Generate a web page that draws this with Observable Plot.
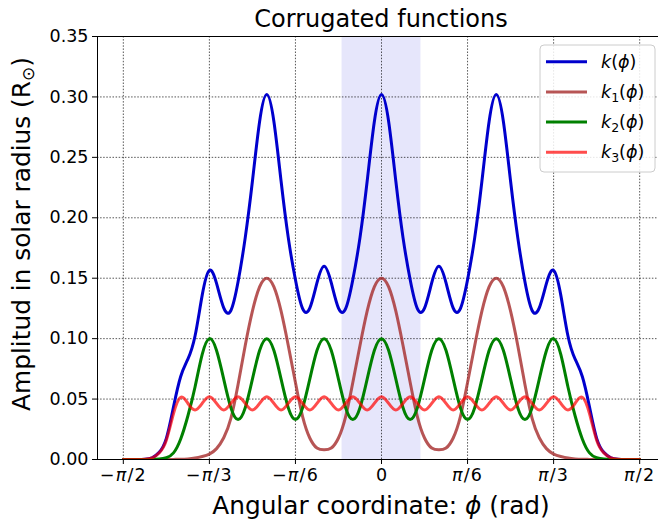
<!DOCTYPE html>
<html>
<head>
<meta charset="utf-8">
<script src="https://cdn.jsdelivr.net/npm/d3@7"></script>
<script src="https://cdn.jsdelivr.net/npm/@observablehq/plot@0.6"></script>
<style>
  html, body { margin: 0; padding: 0; background: #fff; }
  body { width: 658px; height: 523px; overflow: hidden; }
  #chart { width: 658px; height: 523px; }
</style>
</head>
<body>
<div id="chart"></div>
<script>
// Angular samples, in degrees (converted to radians for the x scale)
const angleDeg = [
  -90, -87.5, -85, -82.5, -80, -77.5, -75, -72.5, -70, -67.5, -65, -62.5,
  -60, -57.5, -55, -52.5, -50, -47.5, -45, -42.5, -40, -37.5, -35, -32.5,
  -30, -27.5, -25, -22.5, -20, -17.5, -15, -12.5, -10, -7.5, -5, -2.5,
  0,
  2.5, 5, 7.5, 10, 12.5, 15, 17.5, 20, 22.5, 25, 27.5, 30,
  32.5, 35, 37.5, 40, 42.5, 45, 47.5, 50, 52.5, 55, 57.5, 60,
  62.5, 65, 67.5, 70, 72.5, 75, 77.5, 80, 82.5, 85, 87.5, 90
];

// k(phi): total corrugation
const kTotal = [
  0, 0, 0.0001, 0.0003, 0.0014, 0.0059, 0.0175, 0.0436, 0.0687, 0.083, 0.1022, 0.136,
  0.1565, 0.1457, 0.1255, 0.1233, 0.147, 0.1836, 0.2302, 0.2795, 0.302, 0.2795, 0.2302, 0.1836,
  0.1487, 0.1248, 0.1253, 0.1462, 0.160, 0.1462, 0.1253, 0.1248, 0.1487, 0.1836, 0.2302, 0.2795,
  0.302,
  0.2795, 0.2302, 0.1836, 0.1487, 0.1248, 0.1253, 0.1462, 0.160, 0.1462, 0.1253, 0.1248, 0.1487,
  0.1836, 0.2302, 0.2795, 0.302, 0.2795, 0.2302, 0.1836, 0.147, 0.1233, 0.1255, 0.1457, 0.1565,
  0.136, 0.1022, 0.083, 0.0687, 0.0436, 0.0175, 0.0059, 0.0014, 0.0003, 0.0001, 0, 0
];

// k1(phi)
const k1 = [
  0, 0, 0, 0, 0, 0, 0, 0.0001, 0.0002, 0.0005, 0.0012, 0.0025,
  0.0045, 0.009, 0.018, 0.034, 0.062, 0.0943, 0.1227, 0.1428, 0.150, 0.1428, 0.1227, 0.0943,
  0.0637, 0.0355, 0.0178, 0.0095, 0.008, 0.0095, 0.0178, 0.0355, 0.0637, 0.0943, 0.1227, 0.1428,
  0.150,
  0.1428, 0.1227, 0.0943, 0.0637, 0.0355, 0.0178, 0.0095, 0.008, 0.0095, 0.0178, 0.0355, 0.0637,
  0.0943, 0.1227, 0.1428, 0.150, 0.1428, 0.1227, 0.0943, 0.062, 0.034, 0.018, 0.009, 0.0045,
  0.0025, 0.0012, 0.0005, 0.0002, 0.0001, 0, 0, 0, 0, 0, 0, 0
];

// k2(phi)
const k2 = [
  0, 0, 0, 0, 0.0001, 0.0004, 0.0015, 0.0055, 0.017, 0.036, 0.060, 0.087,
  0.100, 0.0902, 0.0665, 0.0428, 0.033, 0.0428, 0.0665, 0.0902, 0.100, 0.0902, 0.0665, 0.0428,
  0.033, 0.0428, 0.0665, 0.0902, 0.100, 0.0902, 0.0665, 0.0428, 0.033, 0.0428, 0.0665, 0.0902,
  0.100,
  0.0902, 0.0665, 0.0428, 0.033, 0.0428, 0.0665, 0.0902, 0.100, 0.0902, 0.0665, 0.0428, 0.033,
  0.0428, 0.0665, 0.0902, 0.100, 0.0902, 0.0665, 0.0428, 0.033, 0.0428, 0.0665, 0.0902, 0.100,
  0.087, 0.060, 0.036, 0.017, 0.0055, 0.0015, 0.0004, 0.0001, 0, 0, 0, 0
];

// k3(phi)
const k3 = [
  0, 0, 0.0001, 0.0003, 0.0013, 0.0055, 0.016, 0.038, 0.0515, 0.0465, 0.041, 0.0465,
  0.052, 0.0465, 0.041, 0.0465, 0.052, 0.0465, 0.041, 0.0465, 0.052, 0.0465, 0.041, 0.0465,
  0.052, 0.0465, 0.041, 0.0465, 0.052, 0.0465, 0.041, 0.0465, 0.052, 0.0465, 0.041, 0.0465,
  0.052,
  0.0465, 0.041, 0.0465, 0.052, 0.0465, 0.041, 0.0465, 0.052, 0.0465, 0.041, 0.0465, 0.052,
  0.0465, 0.041, 0.0465, 0.052, 0.0465, 0.041, 0.0465, 0.052, 0.0465, 0.041, 0.0465, 0.052,
  0.0465, 0.041, 0.0465, 0.0515, 0.038, 0.016, 0.0055, 0.0013, 0.0003, 0.0001, 0, 0
];

// Highlighted central sector (radians)
const bandEdges = [-0.24, 0.24];

// Axis ticks
const xTickFractions = [-1/2, -1/3, -1/6, 0, 1/6, 1/3, 1/2];   // multiples of pi
const xTickLabels = ["−π/2", "−π/3", "−π/6", "0", "π/6", "π/3", "π/2"];
const yTicks = [0, 0.05, 0.10, 0.15, 0.20, 0.25, 0.30, 0.35];

// Series styling, in drawing order
const series = [
  {key: "k",  values: kTotal, color: "#0000cd", opacity: 1,   sub: null},
  {key: "k1", values: k1,     color: "#a52a2a", opacity: 0.8, sub: "1"},
  {key: "k2", values: k2,     color: "#008000", opacity: 1,   sub: "2"},
  {key: "k3", values: k3,     color: "#ff0000", opacity: 0.7, sub: "3"}
];

const xTickValues = xTickFractions.map(f => f * Math.PI);
const rows = series.map(s => angleDeg.map((d, i) => ({phi: d * Math.PI / 180, value: s.values[i]})));
const fmtX = d => xTickLabels[xTickValues.findIndex(v => Math.abs(v - d) < 1e-9)];
const gridStyle = {stroke: "#000", strokeOpacity: 0.75, strokeWidth: 0.9, strokeDasharray: "1.5,1.6"};

const svg = Plot.plot({
  width: 658,
  height: 523,
  marginLeft: 97,
  marginRight: -7,
  marginTop: 36,
  marginBottom: 64,
  style: {fontFamily: "DejaVu Sans, sans-serif", color: "#000", background: "#fff", overflow: "hidden"},
  x: {domain: [-0.55 * Math.PI, 0.55 * Math.PI]},
  y: {domain: [0, 0.35]},
  marks: [
    Plot.rect([bandEdges], {x1: d => d[0], x2: d => d[1], fill: "#e6e6fb"}),
    Plot.gridX(xTickValues, gridStyle),
    Plot.gridY(yTicks, gridStyle),
    ...series.map((s, j) => Plot.line(rows[j], {
      x: "phi", y: "value", stroke: s.color, strokeOpacity: s.opacity,
      strokeWidth: 3, curve: "natural", clip: true
    })),
    Plot.frame({stroke: "#000", strokeWidth: 1}),
    Plot.axisX(xTickValues, {tickSize: 5, tickPadding: 4, tickFormat: fmtX, fontSize: 17.5, label: null}),
    Plot.axisY(yTicks, {tickSize: 5, tickPadding: 4, tickFormat: d3.format(".2f"), fontSize: 17.5, label: null})
  ]
});

const s = d3.select(svg);
const xs = svg.scale("x"), ys = svg.scale("y");
const cx = (xs.range[0] + xs.range[1]) / 2;

// italic pi in the x tick labels, with a little math spacing
s.selectAll('g[aria-label="x-axis tick label"] text').each(function () {
  const t = this.textContent;
  if (!t.includes("π")) return;
  const el = d3.select(this);
  el.text(null).attr("letter-spacing", 1.2);
  t.split(/(π)/).filter(Boolean).forEach(part =>
    el.append("tspan").attr("font-style", part === "π" ? "italic" : null).text(part));
});

function richText(sel, parts) {
  parts.forEach(p => {
    const t = sel.append("tspan").text(p.t);
    if (p.italic) t.attr("font-style", "italic");
    if (p.size) t.attr("font-size", p.size);
    if (p.dy) t.attr("dy", p.dy);
  });
  return sel;
}

const labels = s.append("g").attr("fill", "#000").attr("font-family", "DejaVu Sans, sans-serif");

// title
labels.append("text")
  .attr("x", cx).attr("y", 27).attr("text-anchor", "middle").attr("font-size", 24)
  .text("Corrugated functions");

// x label
richText(labels.append("text")
  .attr("x", cx).attr("y", 514).attr("text-anchor", "middle").attr("font-size", 24.8),
  [{t: "Angular coordinate: "}, {t: "ϕ", italic: true}, {t: " (rad)"}]);

// y label
richText(labels.append("text")
  .attr("transform", `translate(30,234) rotate(-90)`).attr("text-anchor", "middle").attr("font-size", 24.8),
  [{t: "Amplitud in solar radius (R"}, {t: "⊙", size: 17, dy: 4}, {t: ")", dy: -4}]);

// legend
const legend = s.append("g").attr("font-family", "DejaVu Sans, sans-serif").attr("font-size", 17.5)
  .attr("text-anchor", "start");
legend.append("rect")
  .attr("x", 540).attr("y", 45).attr("width", 115).attr("height", 127).attr("rx", 4)
  .attr("fill", "#fff").attr("fill-opacity", 0.85).attr("stroke", "#cccccc").attr("stroke-width", 1);
series.forEach((d, i) => {
  const yRow = 61.7 + i * 30.2;
  legend.append("line")
    .attr("x1", 546).attr("x2", 587).attr("y1", yRow).attr("y2", yRow)
    .attr("stroke", d.color).attr("stroke-opacity", d.opacity).attr("stroke-width", 3);
  const parts = [{t: "k", italic: true}];
  if (d.sub) parts.push({t: d.sub, size: 12.5, dy: 4}, {t: "(", dy: -4});
  else parts.push({t: "("});
  parts.push({t: "ϕ", italic: true}, {t: ")"});
  richText(legend.append("text").attr("x", 601).attr("y", yRow + 6), parts);
});

document.getElementById("chart").appendChild(svg);
</script>
</body>
</html>
